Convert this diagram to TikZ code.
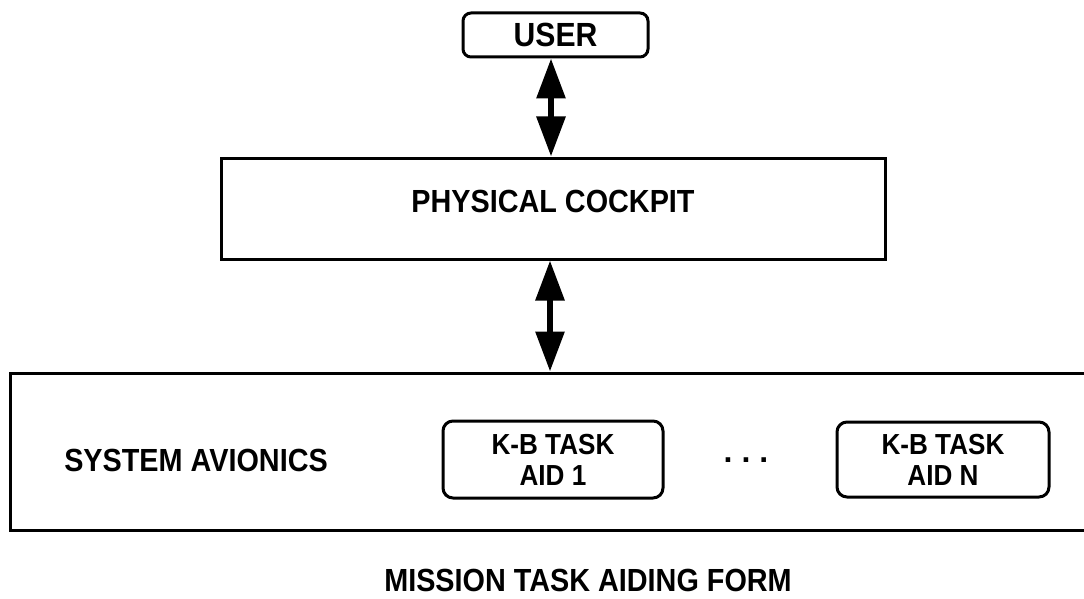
\documentclass[tikz,border=0pt]{standalone}
\usepackage{fontspec}
\setmainfont{Liberation Sans}
\usepackage{graphicx}
\usetikzlibrary{arrows.meta}
\newcommand{\cond}[1]{\scalebox{0.9}[1]{#1}}
\begin{document}
\begin{tikzpicture}[x=1pt,y=-1pt,
  frame/.style={draw=black,line width=3pt,inner sep=0pt},
  rbox/.style={frame,rounded corners=10pt},
  lbl/.style={inner sep=0pt,font=\bfseries\fontsize{32}{36}\selectfont},
  tasklbl/.style={align=center,font=\bfseries\fontsize{29}{31}\selectfont},
  bigarrow/.style={line width=6pt,{Triangle[length=40pt,width=28pt]}-{Triangle[length=40pt,width=28pt]}}
]
\useasboundingbox[fill=white] (0,0) rectangle (1084,599);

% user
\node[rbox,rounded corners=8pt,minimum width=185pt,minimum height=44pt,
      font=\bfseries\fontsize{33.5}{36}\selectfont] (user) at (555.5,35) {\cond{USER}};

% physical cockpit
\node[frame,minimum width=664pt,minimum height=101pt] (cockpit) at (553,208.5) {};
\node[lbl] (cockpitlbl) at (553,201) {\cond{PHYSICAL COCKPIT}};

% system avionics (open at right edge)
\node[frame,minimum width=1100pt,minimum height=157pt] (sys) at (560,451.5) {};
\node[lbl] (syslbl) at (196,460) {\cond{SYSTEM AVIONICS}};

% task aids
\node[rbox,minimum width=220pt,minimum height=77pt,tasklbl] (aid1) at (553,459.5)
  {\cond{K-B TASK}\\\cond{AID 1}};
\node[rbox,minimum width=212pt,minimum height=75pt,tasklbl] (aidn) at (943,459.5)
  {\cond{K-B TASK}\\\cond{AID N}};
\node[lbl] (dots) at (746,460) {.\hspace{0.28em}.\hspace{0.28em}.};

% caption
\node[lbl,font=\bfseries\fontsize{32}{36}\selectfont] (caption) at (588,580) {\cond{MISSION TASK AIDING FORM}};

% arrows
\coordinate (a1) at (user.south -| 551,0);
\coordinate (b1) at (cockpit.north -| 551,0);
\draw[bigarrow] (a1) -- (b1);
\coordinate (a2) at (cockpit.south -| 550,0);
\coordinate (b2) at (sys.north -| 550,0);
\draw[bigarrow] (a2) -- (b2);
\end{tikzpicture}
\end{document}
